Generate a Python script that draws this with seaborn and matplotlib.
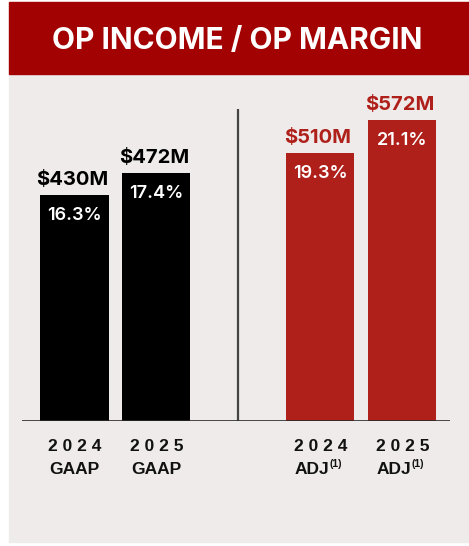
"""
Op income / op margin bar chart, GAAP vs adjusted.
"""
import matplotlib

matplotlib.use("Agg")
import matplotlib.pyplot as plt
import matplotlib.patches as mpatches
import pandas as pd
import seaborn as sns

# ---- Data ----
years = ["2024", "2025", "2024", "2025"]
bases = ["GAAP", "GAAP", "ADJ", "ADJ"]
op_income = [430, 472, 510, 572]  # $M
op_margin = [16.3, 17.4, 19.3, 21.1]  # %
title = "OP INCOME / OP MARGIN"

RED = "#b0201a"
BANNER = "#a30202"
PANEL = "#eeebea"
PX = 1.9  # data units per pixel on the y axis

xpos = [0, 1, 3, 4]
df = pd.DataFrame({"x": xpos, "income": op_income, "margin": op_margin,
                   "year": years, "basis": bases})
df["key"] = [f"{b} {y}" for b, y in zip(bases, years)]
palette = {k: ("#000000" if b == "GAAP" else RED) for k, b in zip(df["key"], bases)}

W, H = 469, 546
fig = plt.figure(figsize=(W / 100, H / 100), dpi=100, facecolor="white")

# background panel + red banner
fig.add_artist(mpatches.Rectangle((9 / W, 4 / H), 1 - 9 / W, (472 - 4) / H,
                                  transform=fig.transFigure, color=PANEL, zorder=0))
fig.add_artist(mpatches.Rectangle((9 / W, (H - 74) / H), 1 - 9 / W, 72 / H,
                                  transform=fig.transFigure, color=BANNER, zorder=1))
fig.text(237 / W, (H - 41) / H, title, color="white", fontsize=21.5, fontweight="bold",
         family=["Inter", "DejaVu Sans"], ha="center", va="center")

ax = fig.add_axes([22 / W, (H - 421) / H, (450 - 22) / W, (421 - 74) / H])
ax.set_facecolor("none")

sns.barplot(data=df, x="x", y="income", hue="key", palette=palette, native_scale=True,
            width=0.83, dodge=False, legend=False, saturation=1, ax=ax)

ax.set_xlim(-0.64, 4.58)
ax.set_ylim(0, (421 - 74) * PX)
ax.axis("off")
ax.axhline(0, color="#2a2a2a", lw=1.2, zorder=3)
ax.plot([2, 2], [0, (421 - 109) * PX], color="#444444", lw=1.6, solid_capstyle="butt")

font = ["Inter", "DejaVu Sans"]
for _, r in df.iterrows():
    c = "#000000" if r["basis"] == "GAAP" else RED
    ax.text(r["x"] - 0.03, r["income"] + 15 * PX, f"${r['income']}M", ha="center",
            va="center", fontsize=14.5, fontweight="bold", color=c, family=font)
    ax.text(r["x"], r["income"] - 21 * PX, f"{r['margin']:.1f}%", ha="center", va="center",
            fontsize=13, fontweight="semibold", color="white", family=font)

    lab = dict(xycoords=("data", "axes fraction"), textcoords="offset points",
               fontweight="bold", color="#111111", family=["Liberation Sans", "DejaVu Sans"])
    ax.annotate(" ".join(r["year"]), (r["x"], 0), xytext=(0, -18.4), ha="center",
                va="center", fontsize=12.5, annotation_clip=False, **lab)
    if r["basis"] == "GAAP":
        ax.annotate(r["basis"], (r["x"], 0), xytext=(0, -35), ha="center", va="center",
                    fontsize=12.5, annotation_clip=False, **lab)
    else:
        ax.annotate(r["basis"], (r["x"], 0), xytext=(6.5, -35), ha="right", va="center",
                    fontsize=12.5, annotation_clip=False, **lab)
        ax.annotate("(1)", (r["x"], 0), xytext=(6.5, -31), ha="left", va="center",
                    fontsize=7.5, annotation_clip=False, **lab)

fig.savefig("out.png", dpi=100, facecolor=fig.get_facecolor())
